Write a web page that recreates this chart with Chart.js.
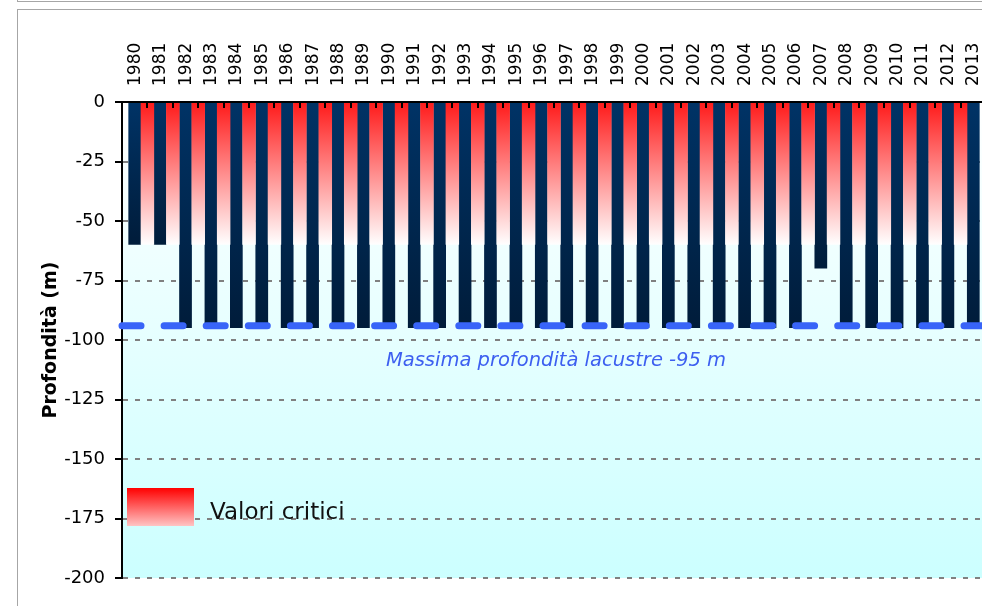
<!DOCTYPE html>
<html>
<head>
<meta charset="utf-8">
<script src="https://cdn.jsdelivr.net/npm/chart.js@4.4.1/dist/chart.umd.min.js"></script>
<style>
    html, body { margin: 0; padding: 0; width: 982px; height: 606px; overflow: hidden; background: #fff; }
    .frame-top { position: absolute; left: 17px; top: -20px; width: 1000px; height: 20px; border: 1px solid #a6a6a6; }
    .frame { position: absolute; left: 17px; top: 9px; width: 1000px; height: 700px; border: 1px solid #a6a6a6; }
    #depth-chart { position: absolute; left: 0; top: 0; }
</style>
</head>
<body>
<div class="frame-top"></div>
<div class="frame"></div>
<canvas id="depth-chart" width="1000" height="606"></canvas>
<script>
const years = ['1980', '1981', '1982', '1983', '1984', '1985', '1986', '1987', '1988', '1989',
    '1990', '1991', '1992', '1993', '1994', '1995', '1996', '1997', '1998', '1999',
    '2000', '2001', '2002', '2003', '2004', '2005', '2006', '2007', '2008', '2009',
    '2010', '2011', '2012', '2013'];

// profondita' raggiunta dal rimescolamento (m)
const depths = [-60, -60, -95, -95, -95, -95, -95, -95, -95, -95,
    -95, -95, -95, -95, -95, -95, -95, -95, -95, -95,
    -95, -95, -95, -95, -95, -95, -95, -70, -95, -95,
    -95, -95, -95, -95];

// barre "valori critici", centrate tra un anno e l'altro
const criticalSlots = ['', '80/81', '81/82', '82/83', '83/84', '84/85', '85/86', '86/87', '87/88', '88/89',
    '89/90', '90/91', '91/92', '92/93', '93/94', '94/95', '95/96', '96/97', '97/98', '98/99',
    '99/00', '00/01', '01/02', '02/03', '03/04', '04/05', '05/06', '06/07', '07/08', '08/09',
    '09/10', '10/11', '11/12', '12/13', ''];
const criticalValues = [null, -60, -60, -60, -60, -60, -60, -60, -60, -60,
    -60, -60, -60, -60, -60, -60, -60, -60, -60, -60,
    -60, -60, -60, -60, -60, -60, -60, -60, -60, -60,
    -60, -60, -60, -60, null];

const lakeDepthLine = [-94, -94, -94, -94, -94, -94, -94, -94, -94, -94,
    -94, -94, -94, -94, -94, -94, -94, -94, -94, -94,
    -94, -94, -94, -94, -94, -94, -94, -94, -94, -94,
    -94, -94, -94, -94, -94];
const lakeDepthLabel = 'Massima profondità lacustre -95 m';

const depthTicks = [0, -25, -50, -75, -100, -125, -150, -175, -200];
const criticalLabel = 'Valori critici';
const axisTitle = 'Profondità (m)';

const FONT = '"DejaVu Sans", sans-serif';

const ChartPlugins = {
    plotBackground: {
        id: 'plotBackground',
        beforeDraw: function (chart) {
            const { ctx, chartArea } = chart;
            const g = ctx.createLinearGradient(0, chartArea.top, 0, chartArea.bottom);
            g.addColorStop(0, '#ffffff');
            g.addColorStop(1, '#ccffff');
            ctx.save();
            ctx.fillStyle = g;
            ctx.fillRect(chartArea.left, chartArea.top, chartArea.right - chartArea.left, chartArea.bottom - chartArea.top);
            ctx.restore();
        }
    },

    // piccole tacche tra le categorie, rivolte verso il basso
    boundaryTicks: {
        id: 'boundaryTicks',
        afterDatasetsDraw: function (chart) {
            const { ctx, chartArea } = chart;
            const x2 = chart.scales.x2;
            ctx.save();
            ctx.strokeStyle = '#000';
            ctx.lineWidth = 2;
            ctx.beginPath();
            for (let i = 1; i <= years.length; i++) {
                const px = Math.round(x2.getPixelForValue(i));
                ctx.moveTo(px, chartArea.top);
                ctx.lineTo(px, chartArea.top + 6);
            }
            ctx.stroke();
            ctx.restore();
        }
    },

    annotations: {
        id: 'annotations',
        afterDraw: function (chart) {
            const { ctx, chartArea } = chart;
            const y = chart.scales.y;
            ctx.save();

            ctx.font = 'italic 19.5px ' + FONT;
            ctx.fillStyle = '#3d5ff0';
            ctx.textAlign = 'center';
            ctx.textBaseline = 'alphabetic';
            ctx.fillText(lakeDepthLabel, (chartArea.left + chartArea.right) / 2 + 2, y.getPixelForValue(-95) + 38);

            // legenda dentro l'area del grafico
            const bx = chartArea.left + 5;
            const by = chartArea.bottom - 90;
            const g = ctx.createLinearGradient(0, by, 0, by + 38);
            g.addColorStop(0, '#ff0000');
            g.addColorStop(1, '#ffc4c4');
            ctx.fillStyle = g;
            ctx.fillRect(bx, by, 67, 38);

            ctx.font = '23px ' + FONT;
            ctx.fillStyle = '#111';
            ctx.textAlign = 'left';
            ctx.fillText(criticalLabel, bx + 83, by + 31);
            ctx.restore();
        }
    }
};

function darkBarColor(context) {
    const chart = context.chart;
    if (!chart.chartArea || context.raw == null) return '#002a55';
    const y = chart.scales.y;
    const g = chart.ctx.createLinearGradient(0, y.getPixelForValue(0), 0, y.getPixelForValue(context.raw));
    g.addColorStop(0, '#003366');
    g.addColorStop(1, '#001c3a');
    return g;
}

function criticalBarColor(context) {
    const chart = context.chart;
    if (!chart.chartArea) return '#ff8080';
    const y = chart.scales.y;
    const g = chart.ctx.createLinearGradient(0, y.getPixelForValue(0), 0, y.getPixelForValue(-60));
    g.addColorStop(0, '#ff1a1a');
    g.addColorStop(1, '#ffffff');
    return g;
}

document.addEventListener('DOMContentLoaded', function () {
    const ctx = document.getElementById('depth-chart').getContext('2d');

    new Chart(ctx, {
        data: {
            labels: years,
            datasets: [{
                type: 'line',
                label: lakeDepthLabel,
                data: lakeDepthLine,
                xAxisID: 'x2',
                borderColor: '#3864f8',
                borderWidth: 7,
                borderDash: [19, 23.1],
                borderCapStyle: 'round',
                pointRadius: 0,
                fill: false,
                clip: false,
                order: 0
            }, {
                type: 'bar',
                label: criticalLabel,
                data: criticalValues,
                xAxisID: 'x2',
                backgroundColor: criticalBarColor,
                grouped: false,
                barPercentage: 0.53,
                categoryPercentage: 1,
                order: 1
            }, {
                type: 'bar',
                label: 'Profondità',
                data: depths,
                xAxisID: 'x',
                backgroundColor: darkBarColor,
                grouped: false,
                barPercentage: 0.5,
                categoryPercentage: 1,
                order: 2
            }]
        },
        options: {
            responsive: false,
            animation: false,
            layout: { padding: { left: 36, top: 0, right: 14, bottom: 28 } },
            plugins: {
                legend: { display: false },
                tooltip: { enabled: false }
            },
            scales: {
                x: {
                    type: 'category',
                    position: 'top',
                    offset: true,
                    grid: { display: false, drawTicks: false },
                    border: { display: true, color: '#000', width: 2 },
                    ticks: {
                        autoSkip: false,
                        minRotation: 90,
                        maxRotation: 90,
                        labelOffset: 21,
                        padding: 16,
                        color: '#000',
                        font: { family: FONT, size: 17 }
                    },
                    afterFit: function (scale) { scale.height = 102; }
                },
                x2: {
                    type: 'category',
                    labels: criticalSlots,
                    offset: false,
                    display: false
                },
                y: {
                    type: 'linear',
                    min: -200,
                    max: 0,
                    afterBuildTicks: function (scale) {
                        scale.ticks = depthTicks.map(v => ({ value: v }));
                    },
                    grid: {
                        color: '#808080',
                        lineWidth: 2,
                        tickColor: '#000',
                        tickWidth: 2,
                        tickLength: 7,
                        tickBorderDash: []
                    },
                    border: { display: true, color: '#000', width: 2, dash: [5, 7] },
                    ticks: {
                        padding: 10,
                        color: '#000',
                        font: { family: FONT, size: 18 }
                    },
                    title: {
                        display: true,
                        text: axisTitle,
                        color: '#000',
                        font: { family: FONT, size: 19, weight: 'bold' }
                    },
                    afterFit: function (scale) { scale.width = 86; }
                }
            }
        },
        plugins: [ChartPlugins.plotBackground, ChartPlugins.boundaryTicks, ChartPlugins.annotations]
    });
});
</script>
</body>
</html>
